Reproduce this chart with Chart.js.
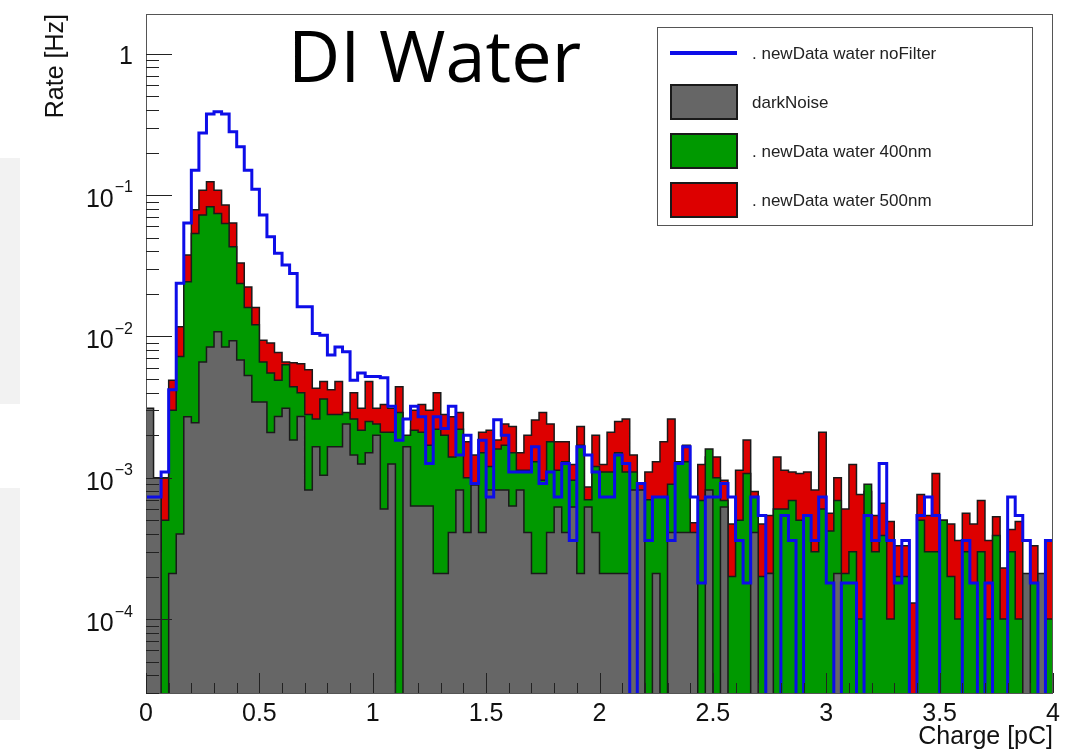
<!DOCTYPE html>
<html>
<head>
<meta charset="utf-8">
<title>DI Water</title>
<script src="https://cdn.jsdelivr.net/npm/chart.js@4.4.1/dist/chart.umd.min.js"></script>
<style>
  html, body { margin: 0; padding: 0; background: #ffffff; }
  #wrap { position: relative; width: 1073px; height: 754px; }
  .panel { position: absolute; left: 0; width: 20px; background: #f2f2f2; }
  canvas { position: absolute; left: 0; top: 0; }
</style>
</head>
<body>
<div id="wrap">
  <div class="panel" style="top:158px;height:246px"></div>
  <div class="panel" style="top:488px;height:232px"></div>
  <canvas id="chart" width="1073" height="754"></canvas>
</div>
<script>
// 120 bins from 0 to 4 pC, rates in Hz
const nBins = 120;
const chargeMax = 4;

const noFilter = [
  7.3e-4, 7.3e-4, 1.1e-3, 4.2e-3, 0.0238, 0.0634, 0.150, 0.275, 0.374, 0.389,
  0.374, 0.281, 0.220, 0.150, 0.110, 0.0723, 0.0507, 0.0387, 0.032, 0.0279,
  0.0162, 0.0162, 0.0105, 0.0102, 0.0074, 0.0084, 0.0078, 0.0049, 0.0055, 0.0052,
  0.0052, 0.0051, 0.0032, 0.00184, 0.0026, 0.0032, 0.0027, 0.00126, 0.0027, 0.00223,
  0.0032, 0.00145, 0.0020, 0.00091, 0.00184, 0.00073, 0.00257, 0.0020, 0.0011, 0.0011,
  0.0011, 0.00166, 0.00091, 0.0011, 0.00073, 0.00126, 0.00036, 0.00166, 0.00145, 0.0011,
  0.00073, 0.00073, 0.00145, 0.00126, 0, 0.00091, 0.00036, 0.00073, 0.00073, 0.00036,
  0.00126, 0.00166, 0.00073, 0.00018, 0.00073, 0.00073, 0.00091, 0.00073, 0.00036, 0.00018,
  0.00073, 0.00054, 0, 0, 0.00054, 0.00036, 0, 0.00054, 0.00036, 0.00073,
  0.00018, 0, 0.00018, 0.00018, 0, 0.00054, 0.00036, 0.00126, 0.00036, 0.00018,
  0.00036, 0, 0.00054, 0.00073, 0.00054, 0, 0, 0, 0.00036, 0.00018,
  0, 0.00018, 0, 0, 0.00073, 0.00054, 0.00036, 0.00018, 0, 0.00036
];

const darkNoise = [
  0.0031, 0.001, 0, 0.00021, 0.0004, 0.0027, 0.00245, 0.0066, 0.0084, 0.0108,
  0.0084, 0.0093, 0.0068, 0.0053, 0.00344, 0.00344, 0.00209, 0.00271, 0.0031, 0.00185,
  0.00271, 0.00082, 0.00166, 0.00104, 0.00166, 0.00166, 0.0024, 0.00145, 0.00125, 0.0015,
  0.002, 0.0006, 0.00125, 0, 0.00166, 0.00063, 0.00063, 0.00063, 0.00021, 0.00021,
  0.00041, 0.00082, 0.00041, 0.00089, 0.00041, 0.00082, 0.00082, 0.00082, 0.00063, 0.00082,
  0.00041, 0.00021, 0.00021, 0.00041, 0.00062, 0.00041, 0.00062, 0.00021, 0.00062, 0.00041,
  0.00021, 0.00021, 0.00021, 0.00021, 0.00082, 0.00082, 0, 0.00021, 0, 0.00041,
  0.00041, 0.00041, 0.00041, 0, 0.00082, 0, 0.00062, 0, 0, 0,
  0.00041, 0, 0.00021, 0, 0, 0, 0, 0, 0, 0,
  0, 0.00021, 0, 0, 0, 0, 0, 0, 0, 0,
  0, 0, 0, 0, 0, 0, 0, 0, 0, 0,
  0, 0, 0, 0, 0, 0, 0.00021, 0, 0.00021, 0
];

const water400 = [
  0.0003, 0.0003, 0.0005, 0.003, 0.0072, 0.0244, 0.0535, 0.0724, 0.0825, 0.0741,
  0.063, 0.043, 0.0237, 0.016, 0.0121, 0.0066, 0.0055, 0.0049, 0.0063, 0.0044,
  0.0040, 0.0028, 0.0026, 0.0036, 0.0028, 0.0028, 0.0029, 0.0026, 0.00217, 0.0025,
  0.0024, 0.0021, 0.0021, 0.0029, 0.002, 0.00217, 0.0021, 0.0017, 0.0022, 0.002,
  0.0014, 0.0022, 0.001, 0.0009, 0.0015, 0.0012, 0.0016, 0.0017, 0.0015, 0.00113,
  0.00113, 0.0013, 0.00096, 0.0018, 0.00113, 0.0013, 0.00096, 0.0017, 0.0007, 0.0012,
  0.0011, 0.0011, 0.0015, 0.0011, 0.0011, 0.0007, 0.0007, 0.00073, 0.00073, 0.0009,
  0.0013, 0.0013, 0.0004, 0.00069, 0.0016, 0.001, 0.00069, 0.0002, 0.0005, 0.00107,
  0.00073, 0.0002, 0.00021, 0.0006, 0.0006, 0.00069, 0.0005, 0.00054, 0.0003, 0.0006,
  0.00042, 0.00069, 0.00021, 0.0003, 0.0001, 0.0009, 0.0003, 0.00039, 0.0001, 0.0002,
  0.0002, 0, 0.0005, 0.0003, 0.0003, 0.0005, 0.0002, 0.0001, 0.0003, 0.00018,
  0.0003, 0.0001, 0.00039, 0.0001, 0.0003, 0.0001, 0.0002, 0.00018, 0.0002, 0.0001
];

const water500 = [
  0.0003, 0.0003, 0.001, 0.0049, 0.0117, 0.0377, 0.0786, 0.108, 0.124, 0.108,
  0.085, 0.0635, 0.0331, 0.0224, 0.016, 0.0094, 0.009, 0.0077, 0.0066, 0.0065,
  0.0064, 0.0058, 0.0043, 0.0048, 0.0042, 0.0048, 0.0028, 0.004, 0.0031, 0.0048,
  0.0031, 0.0033, 0.0031, 0.0044, 0.0019, 0.003, 0.0033, 0.003, 0.004, 0.0028,
  0.0027, 0.0029, 0.0018, 0.00145, 0.0021, 0.00217, 0.00185, 0.0024, 0.0023, 0.0015,
  0.002, 0.00256, 0.0029, 0.0024, 0.0018, 0.0018, 0.00124, 0.0023, 0.00086, 0.002,
  0.00124, 0.0021, 0.0025, 0.0026, 0.00145, 0.00091, 0.0011, 0.0013, 0.0018, 0.0026,
  0.0013, 0.0017, 0.00048, 0.00124, 0.0014, 0.0014, 0.00096, 0.00047, 0.00113, 0.00185,
  0.0008, 0.00047, 0.00054, 0.0014, 0.00113, 0.0011, 0.00107, 0.0011, 0.00082, 0.0021,
  0.00056, 0.001, 0.0006, 0.00124, 0.00076, 0.0008, 0.00054, 0.00066, 0.00049, 0.00033,
  0.00033, 0.00013, 0.00076, 0.00054, 0.00107, 0.0005, 0.00047, 0.00036, 0.00056, 0.00047,
  0.00069, 0.00036, 0.00053, 0.00023, 0.00043, 0.00049, 0.0002, 0.00033, 0.0002, 0.00036
];

const seriesNames = ['. newData water noFilter', 'darkNoise', '. newData water 400nm', '. newData water 500nm'];
const seriesColors = ['#0d0de8', '#666666', '#009900', '#dd0000'];
const yTickExps = [0, -1, -2, -3, -4];

// turn bin contents into step points (lower edges + closing edge)
function toSteps(vals) {
  const w = chargeMax / nBins;
  const pts = vals.map((v, i) => ({ x: i * w, y: v > 0 ? v : 1e-7 }));
  pts.push({ x: chargeMax, y: pts[pts.length - 1].y });
  return pts;
}

const outline = '#1a1a1a';

// ROOT-like frame, inner ticks, y labels, title and legend
const rootStyle = {
  id: 'rootStyle',
  afterDraw(chart) {
    const { ctx, chartArea: a } = chart;
    const x = chart.scales.x, y = chart.scales.y;
    ctx.save();

    ctx.strokeStyle = '#555';
    ctx.lineWidth = 1;
    ctx.strokeRect(a.left + 0.5, a.top + 0.5, a.right - a.left - 1, a.bottom - a.top);

    ctx.strokeStyle = '#222';
    ctx.beginPath();
    for (let k = 0; k <= 40; k++) {
      const px = Math.round(x.getPixelForValue(k / 10)) + 0.5;
      const len = k % 5 === 0 ? 20 : 10;
      ctx.moveTo(px, a.bottom);
      ctx.lineTo(px, a.bottom - len);
    }
    for (let d = -5; d <= 0; d++) {
      for (let m = 1; m <= 9; m++) {
        const v = m * Math.pow(10, d);
        if (v < y.min || v > y.max) continue;
        const py = Math.round(y.getPixelForValue(v)) + 0.5;
        ctx.moveTo(a.left, py);
        ctx.lineTo(a.left + (m === 1 ? 26 : 13), py);
      }
    }
    ctx.stroke();

    // y labels: 1, 10^-1 ...
    ctx.fillStyle = '#111';
    ctx.textBaseline = 'middle';
    ctx.textAlign = 'right';
    const labelRight = a.left - 13;
    yTickExps.forEach(e => {
      const py = y.getPixelForValue(Math.pow(10, e));
      if (e === 0) {
        ctx.font = '25px "Liberation Sans", Arial, sans-serif';
        ctx.fillText('1', labelRight, py + 3);
        return;
      }
      const sup = '\u2212' + Math.abs(e);
      ctx.font = '16px "Liberation Sans", Arial, sans-serif';
      const w = ctx.measureText(sup).width;
      ctx.fillText(sup, labelRight, py - 7);
      ctx.font = '25px "Liberation Sans", Arial, sans-serif';
      ctx.fillText('10', labelRight - w - 1, py + 5);
    });

    // title
    ctx.textAlign = 'left';
    ctx.textBaseline = 'alphabetic';
    ctx.fillStyle = '#000';
    ctx.font = '72px "Open Sans", "Noto Sans", sans-serif';
    ctx.fillText('DI Water', 288, 82);

    // legend
    const lg = { left: 657, top: 27, right: 1032, bottom: 225 };
    ctx.fillStyle = '#fff';
    ctx.fillRect(lg.left, lg.top, lg.right - lg.left, lg.bottom - lg.top);
    ctx.strokeStyle = '#555';
    ctx.lineWidth = 1;
    ctx.strokeRect(lg.left + 0.5, lg.top + 0.5, lg.right - lg.left, lg.bottom - lg.top);

    const rowY = [53, 102, 151, 200];
    ctx.font = '17px "Liberation Sans", Arial, sans-serif';
    ctx.textBaseline = 'middle';
    seriesNames.forEach((name, i) => {
      const cy = rowY[i];
      if (i === 0) {
        ctx.strokeStyle = seriesColors[0];
        ctx.lineWidth = 4;
        ctx.beginPath();
        ctx.moveTo(670, cy);
        ctx.lineTo(737, cy);
        ctx.stroke();
      } else {
        ctx.fillStyle = seriesColors[i];
        ctx.fillRect(671, cy - 17, 66, 34);
        ctx.strokeStyle = outline;
        ctx.lineWidth = 2;
        ctx.strokeRect(671, cy - 17, 66, 34);
      }
      ctx.fillStyle = '#222';
      ctx.fillText(name, 752, cy + 1);
    });

    ctx.restore();
  }
};

const ctx = document.getElementById('chart').getContext('2d');
const myChart = new Chart(ctx, {
  type: 'line',
  data: {
    datasets: [
      {
        label: seriesNames[0],
        data: toSteps(noFilter),
        borderColor: seriesColors[0],
        borderWidth: 3,
        fill: false,
        stepped: true,
        pointRadius: 0,
        order: 0
      },
      {
        label: seriesNames[1],
        data: toSteps(darkNoise),
        borderColor: outline,
        backgroundColor: seriesColors[1],
        borderWidth: 1.5,
        fill: 'start',
        stepped: true,
        pointRadius: 0,
        order: 1
      },
      {
        label: seriesNames[2],
        data: toSteps(water400),
        borderColor: outline,
        backgroundColor: seriesColors[2],
        borderWidth: 1.5,
        fill: 'start',
        stepped: true,
        pointRadius: 0,
        order: 2
      },
      {
        label: seriesNames[3],
        data: toSteps(water500),
        borderColor: outline,
        backgroundColor: seriesColors[3],
        borderWidth: 1.5,
        fill: 'start',
        stepped: true,
        pointRadius: 0,
        order: 3
      }
    ]
  },
  options: {
    responsive: false,
    devicePixelRatio: 1,
    animation: false,
    layout: { padding: { top: 14, right: 20, left: 0, bottom: 0 } },
    plugins: {
      legend: { display: false },
      tooltip: { enabled: false }
    },
    scales: {
      x: {
        type: 'linear',
        min: 0,
        max: chargeMax,
        afterFit(scale) { scale.height = 61; },
        grid: { display: false, drawTicks: false },
        border: { display: false },
        ticks: {
          stepSize: 0.5,
          autoSkip: false,
          maxRotation: 0,
          padding: 6,
          color: '#111',
          font: { family: '"Liberation Sans", Arial, sans-serif', size: 25 },
          callback: v => String(Math.round(v * 10) / 10)
        },
        title: {
          display: true,
          text: 'Charge [pC]',
          align: 'end',
          color: '#111',
          padding: { top: 0, bottom: 2 },
          font: { family: '"Liberation Sans", Arial, sans-serif', size: 25 }
        }
      },
      y: {
        type: 'logarithmic',
        min: 3e-5,
        max: 1.91,
        afterFit(scale) { scale.width = 146; },
        grid: { display: false, drawTicks: false },
        border: { display: false },
        ticks: { display: false },
        title: {
          display: true,
          text: 'Rate [Hz]',
          align: 'end',
          color: '#111',
          padding: { top: 41, bottom: 0 },
          font: { family: '"Liberation Sans", Arial, sans-serif', size: 25 }
        }
      }
    }
  },
  plugins: [rootStyle]
});
</script>
</body>
</html>
